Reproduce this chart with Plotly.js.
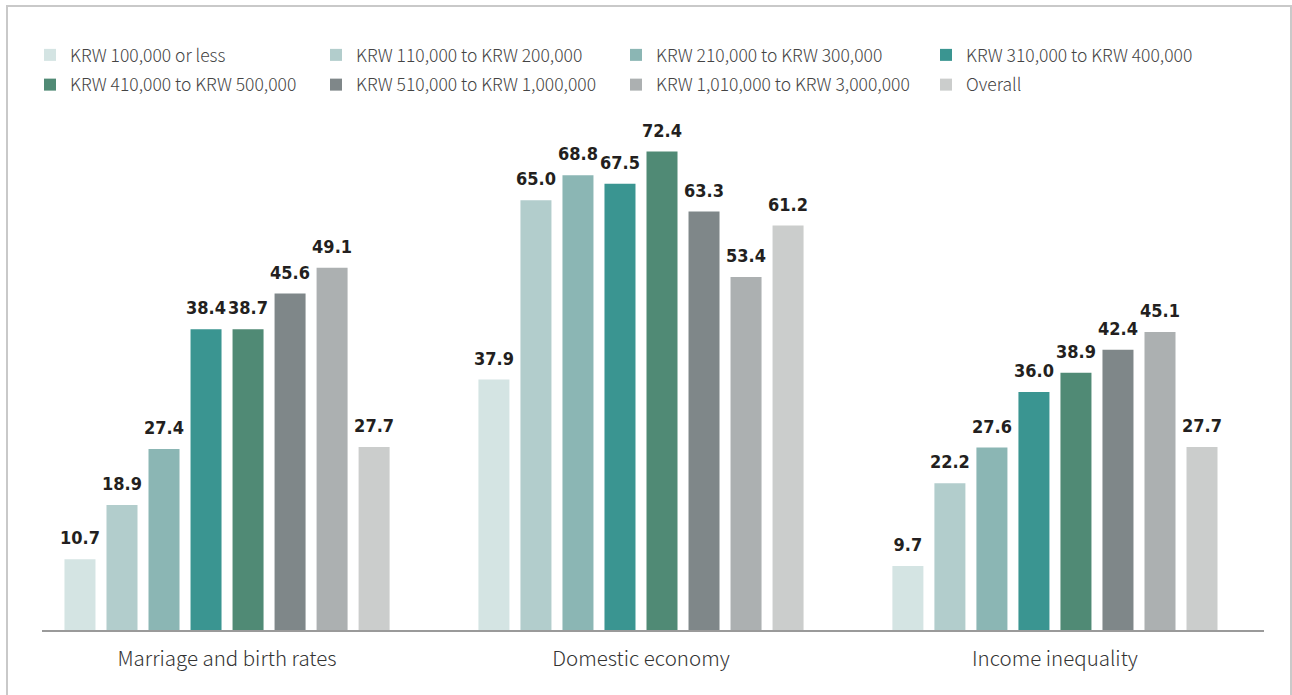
<!DOCTYPE html>
<html>
<head>
<meta charset="utf-8">
<script src="https://cdn.plot.ly/plotly-3.0.1.min.js"></script>
<style>
  html, body { margin: 0; padding: 0; background: #ffffff; }
  #wrap { position: relative; width: 1292px; height: 695px; overflow: hidden; }
  #chart { position: absolute; left: 0; top: 0; width: 1292px; height: 695px; }
  #frame { position: absolute; left: 6px; top: 5px; width: 1282px; height: 720px;
           border: 2px solid #c9c9c9; border-bottom: none; pointer-events: none; }
</style>
</head>
<body>
<div id="wrap">
  <div id="chart"></div>
  <div id="frame"></div>
</div>
<script>
const categories = ['Marriage and birth rates', 'Domestic economy', 'Income inequality'];

const seriesNames = [
  'KRW 100,000 or less',
  'KRW 110,000 to KRW 200,000',
  'KRW 210,000 to KRW 300,000',
  'KRW 310,000 to KRW 400,000',
  'KRW 410,000 to KRW 500,000',
  'KRW 510,000 to KRW 1,000,000',
  'KRW 1,010,000 to KRW 3,000,000',
  'Overall'
];

// printed values (labels), per income series, in category order
const krw100k = [10.7, 37.9, 9.7];
const krw110to200k = [18.9, 65.0, 22.2];
const krw210to300k = [27.4, 68.8, 27.6];
const krw310to400k = [38.4, 67.5, 36.0];
const krw410to500k = [38.7, 72.4, 38.9];
const krw510kto1m = [45.6, 63.3, 42.4];
const krw1mto3m = [49.1, 53.4, 45.1];
const overall = [27.7, 61.2, 27.7];

// bar heights as actually drawn in the picture for "Marriage and birth rates"
// (four of its bars are drawn taller than their printed labels)
const marriageDrawnHeights = [10.7, 18.9, 27.4, 45.5, 45.5, 50.9, 54.8, 27.7];

const seriesValues = [krw100k, krw110to200k, krw210to300k, krw310to400k,
                      krw410to500k, krw510kto1m, krw1mto3m, overall];

const colors = ['#d4e4e3', '#b2cdcc', '#8bb6b4', '#3a9591',
                '#508a75', '#7f8789', '#acb0b1', '#cbcdcc'];

const legendIds = ['legend', 'legend2', 'legend3', 'legend4'];

function drawnHeights(vals, i) {
  return vals.map((v, j) => (j === 0 ? marriageDrawnHeights[i] : v));
}

const barTraces = seriesValues.map((vals, i) => ({
  type: 'bar',
  name: seriesNames[i],
  x: categories,
  y: drawnHeights(vals, i),
  marker: { color: colors[i] },
  legend: legendIds[i % 4],
  legendgroup: 'g' + i,
  hovertext: vals.map(v => v.toFixed(1)),
  hoverinfo: 'x+text+name'
}));

const labelTraces = seriesValues.map((vals, i) => ({
  type: 'scatter',
  mode: 'markers+text',
  x: categories,
  y: drawnHeights(vals, i),
  text: vals.map(v => v.toFixed(1)),
  textposition: 'top center',
  marker: { size: 15, opacity: 0, color: colors[i] },
  textfont: { family: '"DejaVu Sans Condensed", "DejaVu Sans", sans-serif', size: 18, color: '#231f20', weight: 700 },
  cliponaxis: false,
  showlegend: false,
  hoverinfo: 'skip'
}));

const legendFont = { family: '"Noto Sans CJK KR", "Noto Sans", sans-serif', size: 17.5, color: '#444444', weight: 300 };
const colX = [30, 316, 616, 926];
function mkLegend(k) {
  return {
    xref: 'container', yref: 'container',
    x: colX[k] / 1292, y: 1 - 37 / 695,
    xanchor: 'left', yanchor: 'top',
    orientation: 'v',
    font: legendFont,
    bgcolor: 'rgba(0,0,0,0)',
    tracegroupgap: 4
  };
}

const layout = {
  width: 1292,
  height: 695,
  margin: { l: 42, r: 28, t: 130, b: 65, autoexpand: false },
  paper_bgcolor: '#ffffff',
  plot_bgcolor: '#ffffff',
  barmode: 'group',
  bargap: 0.188,
  bargroupgap: 0.262,
  scattermode: 'group',
  scattergap: 0.188,
  showlegend: true,
  legend: mkLegend(0),
  legend2: mkLegend(1),
  legend3: mkLegend(2),
  legend4: mkLegend(3),
  xaxis: {
    type: 'category',
    range: [-0.447, 2.505],
    showline: true,
    linecolor: '#9a9a9a',
    linewidth: 2,
    showgrid: false,
    zeroline: false,
    ticks: '',
    ticklabelstandoff: 9,
    tickfont: { family: '"Noto Sans CJK KR", "Noto Sans", sans-serif', size: 20.5, color: '#333333', weight: 300 }
  },
  yaxis: {
    range: [0, 75.64],
    visible: false,
    showgrid: false,
    zeroline: false
  },
  font: { family: '"Noto Sans CJK KR", "Noto Sans", sans-serif' }
};

Plotly.newPlot('chart', barTraces.concat(labelTraces), layout, { displayModeBar: false });
</script>
</body>
</html>
